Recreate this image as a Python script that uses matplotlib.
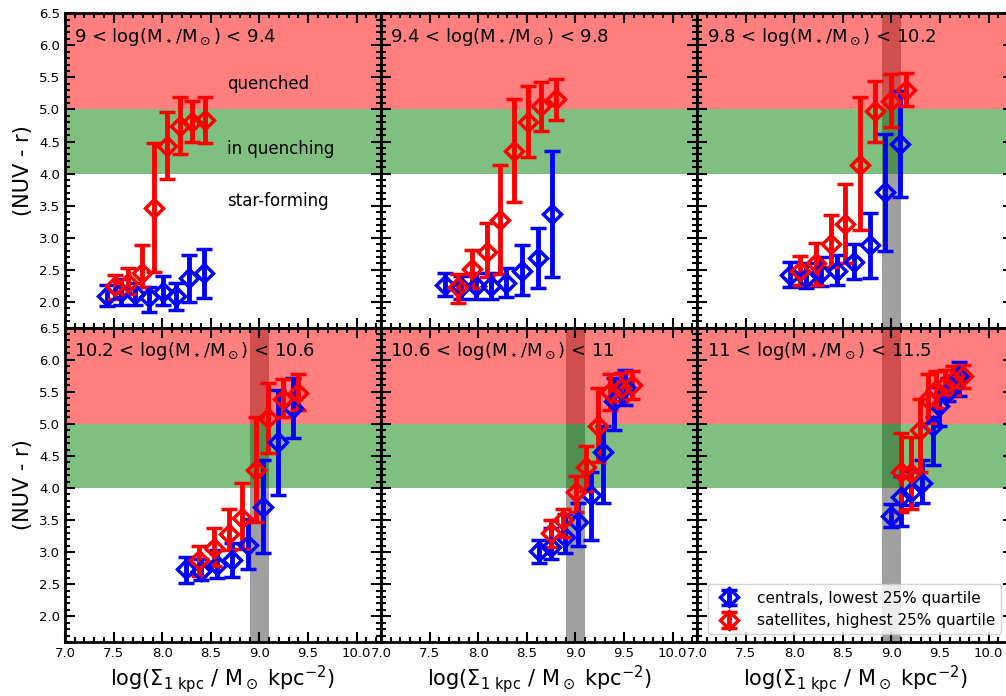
import matplotlib.pyplot as plt

# mass bins shown in each panel
MASS_LABELS = [r'9 < log(M$_\star$/M$_\odot$) < 9.4',
               r'9.4 < log(M$_\star$/M$_\odot$) < 9.8',
               r'9.8 < log(M$_\star$/M$_\odot$) < 10.2',
               r'10.2 < log(M$_\star$/M$_\odot$) < 10.6',
               r'10.6 < log(M$_\star$/M$_\odot$) < 11',
               r'11 < log(M$_\star$/M$_\odot$) < 11.5']

# centrals, lowest 25% quartile: x, median colour, lower / upper error bound
cen_x = [[7.43, 7.58, 7.72, 7.86, 8.01, 8.14, 8.28, 8.43],
         [7.66, 7.82, 7.98, 8.13, 8.29, 8.45, 8.61, 8.76],
         [7.96, 8.12, 8.27, 8.44, 8.61, 8.78, 8.93, 9.09],
         [8.24, 8.40, 8.56, 8.72, 8.88, 9.04, 9.19, 9.34],
         [8.62, 8.75, 8.89, 9.03, 9.16, 9.28, 9.40, 9.51],
         [8.99, 9.10, 9.20, 9.31, 9.43, 9.49, 9.58, 9.69]]
cen_y = [[2.09, 2.15, 2.13, 2.08, 2.16, 2.09, 2.37, 2.45],
         [2.26, 2.23, 2.25, 2.25, 2.30, 2.48, 2.68, 3.37],
         [2.42, 2.37, 2.45, 2.49, 2.62, 2.88, 3.71, 4.46],
         [2.73, 2.71, 2.80, 2.88, 3.11, 3.70, 4.71, 5.24],
         [3.02, 3.08, 3.24, 3.47, 3.89, 4.56, 5.35, 5.58],
         [3.56, 3.86, 3.94, 4.08, 4.97, 5.28, 5.50, 5.74]]
cen_lo = [[1.93, 1.95, 1.95, 1.84, 1.95, 1.88, 2.00, 2.06],
          [2.09, 2.04, 2.04, 2.04, 2.07, 2.11, 2.21, 2.39],
          [2.24, 2.21, 2.25, 2.26, 2.35, 2.38, 2.80, 3.64],
          [2.52, 2.57, 2.59, 2.61, 2.73, 2.99, 3.89, 4.78],
          [2.83, 2.90, 2.99, 3.09, 3.19, 3.77, 4.91, 5.30],
          [3.40, 3.41, 3.73, 3.76, 4.36, 4.97, 5.35, 5.44]]
cen_hi = [[2.26, 2.35, 2.30, 2.23, 2.40, 2.30, 2.73, 2.83],
          [2.45, 2.40, 2.45, 2.45, 2.53, 2.88, 3.16, 4.35],
          [2.62, 2.60, 2.70, 2.73, 2.91, 3.39, 4.62, 5.29],
          [2.93, 2.90, 3.04, 3.14, 3.52, 4.43, 5.52, 5.71],
          [3.19, 3.37, 3.60, 3.76, 4.25, 4.96, 5.71, 5.84],
          [3.75, 4.18, 4.27, 4.44, 5.11, 5.58, 5.71, 5.97]]

# satellites, highest 25% quartile
sat_x = [[7.51, 7.65, 7.79, 7.92, 8.05, 8.18, 8.31, 8.44],
         [7.79, 7.94, 8.09, 8.22, 8.37, 8.51, 8.65, 8.80],
         [8.06, 8.22, 8.38, 8.52, 8.68, 8.83, 8.99, 9.15],
         [8.38, 8.53, 8.69, 8.82, 8.96, 9.09, 9.24, 9.40],
         [8.75, 8.87, 9.01, 9.11, 9.23, 9.35, 9.47, 9.58],
         [9.10, 9.20, 9.29, 9.38, 9.46, 9.55, 9.63, 9.74]]
sat_y = [[2.25, 2.30, 2.45, 3.47, 4.43, 4.75, 4.80, 4.84],
         [2.23, 2.51, 2.78, 3.28, 4.36, 4.81, 5.06, 5.16],
         [2.48, 2.60, 2.91, 3.22, 4.14, 4.97, 5.13, 5.30],
         [2.88, 3.07, 3.29, 3.54, 4.28, 5.09, 5.38, 5.48],
         [3.30, 3.50, 3.93, 4.33, 4.97, 5.49, 5.56, 5.61],
         [4.25, 4.23, 4.91, 5.38, 5.53, 5.61, 5.69, 5.75]]
sat_lo = [[2.05, 2.12, 2.24, 2.47, 3.91, 4.30, 4.50, 4.47],
          [1.99, 2.21, 2.39, 2.44, 3.56, 4.26, 4.66, 4.84],
          [2.26, 2.26, 2.55, 2.60, 3.12, 4.49, 4.73, 5.06],
          [2.63, 2.78, 3.04, 3.05, 3.47, 4.54, 5.10, 5.21],
          [3.08, 3.24, 3.63, 3.95, 4.41, 5.22, 5.35, 5.38],
          [3.63, 3.67, 4.25, 5.01, 5.24, 5.38, 5.45, 5.56]]
sat_hi = [[2.42, 2.53, 2.88, 4.48, 4.96, 5.20, 5.13, 5.20],
          [2.43, 2.81, 3.23, 4.13, 5.16, 5.36, 5.43, 5.48],
          [2.71, 2.92, 3.36, 3.84, 5.19, 5.45, 5.55, 5.57],
          [3.09, 3.37, 3.67, 4.08, 5.10, 5.63, 5.70, 5.77],
          [3.50, 3.68, 4.18, 4.65, 5.56, 5.78, 5.80, 5.83],
          [4.86, 4.80, 5.38, 5.78, 5.82, 5.84, 5.90, 5.91]]

XLABEL = r'log($\Sigma_{\rm 1\ kpc}$ / M$_\odot$ kpc$^{-2}$)'

fig, axes = plt.subplots(2, 3, sharex=True, sharey=True, figsize=(10.06, 6.96), dpi=100)
fig.subplots_adjust(left=0.0646, right=1.007, bottom=0.0776, top=0.981, wspace=0, hspace=0)

for k, ax in enumerate(axes.flat):
    if k >= 2:
        ax.axvspan(8.9, 9.1, color='gray', alpha=0.75, lw=0)
    ax.axhspan(5.0, 7.0, color='red', alpha=0.5, lw=0)
    ax.axhspan(4.0, 5.0, color='green', alpha=0.5, lw=0)

    ey = [[y - l for y, l in zip(cen_y[k], cen_lo[k])], [h - y for y, h in zip(cen_y[k], cen_hi[k])]]
    ax.errorbar(cen_x[k], cen_y[k], yerr=ey, fmt='D', color='blue', mfc='none', ms=9, mew=2.5,
                elinewidth=3.5, capsize=5.5, capthick=3.5, label='centrals, lowest 25% quartile')
    ey = [[y - l for y, l in zip(sat_y[k], sat_lo[k])], [h - y for y, h in zip(sat_y[k], sat_hi[k])]]
    ax.errorbar(sat_x[k], sat_y[k], yerr=ey, fmt='D', color='red', mfc='none', ms=9, mew=2.5,
                elinewidth=3.5, capsize=5.5, capthick=3.5, label='satellites, highest 25% quartile')

    ax.text(0.03, 0.925, MASS_LABELS[k], transform=ax.transAxes, fontsize=13, va='center')

    ax.set_xlim(7.0, 10.25)
    ax.set_ylim(1.6, 6.5)
    ax.set_xticks([7.0, 7.5, 8.0, 8.5, 9.0, 9.5, 10.0])
    ax.set_yticks([2.0, 2.5, 3.0, 3.5, 4.0, 4.5, 5.0, 5.5, 6.0, 6.5])
    ax.minorticks_on()
    ax.tick_params(which='both', direction='in', top=True, right=True, width=1.5, labelsize=9.5)
    ax.tick_params(which='major', length=7)
    ax.tick_params(which='minor', length=3.5)
    for s in ax.spines.values():
        s.set_linewidth(2)

axes[0, 0].text(8.67, 5.39, 'quenched', fontsize=12, va='center')
axes[0, 0].text(8.67, 4.38, 'in quenching', fontsize=12, va='center')
axes[0, 0].text(8.67, 3.58, 'star-forming', fontsize=12, va='center')

for ax in axes[:, 0]:
    ax.set_ylabel('(NUV - r)', fontsize=15)
for ax in axes[1, :]:
    ax.set_xlabel(XLABEL, fontsize=15, labelpad=2)

axes[1, 2].legend(loc='lower right', fontsize=11, bbox_to_anchor=(0.987, 0.0))

plt.savefig('out.png', dpi=100)
